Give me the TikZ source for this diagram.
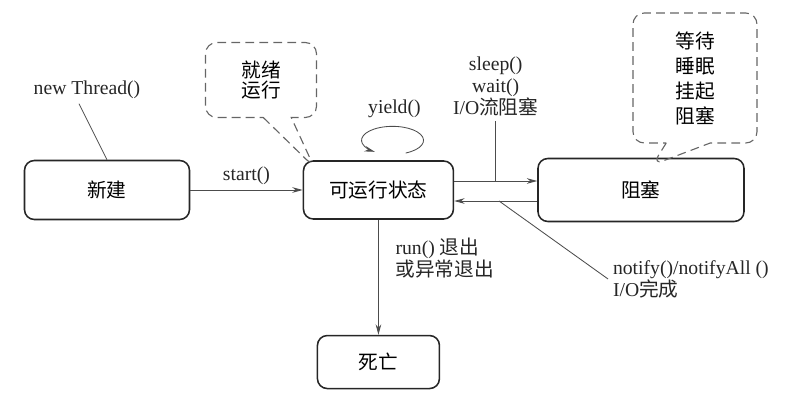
\documentclass[tikz,border=0pt]{standalone}
\usepackage{fontspec}
\setmainfont{Liberation Serif}
\newfontfamily\cjk{Noto Sans CJK SC}
\usetikzlibrary{shapes.callouts, arrows.meta, positioning}
\tikzset{
  % state boxes
  statebox/.style={rectangle, rounded corners=7pt, draw=black!85, line width=1.1pt, text centered, font=\fontsize{14}{17}\selectfont\cjk},
  % dashed speech bubbles
  notebox/.style={rectangle callout, rounded corners=8pt, draw=black!60, dash pattern=on 2.2mm off 1.3mm, line width=0.8pt, align=center, callout pointer width=#1, callout pointer shorten=-0.2cm},
  notebox/.default={0.7cm},
  % labels and connectors
  lbl/.style={font=\fontsize{14}{15.6}\selectfont, text=black!85},
  arrow/.style={-{Stealth[length=2.6mm, width=1.4mm]}, draw=black!70, line width=0.6pt},
  link/.style={draw=black!70, line width=0.6pt},
}
\begin{document}
\begin{tikzpicture}
  \useasboundingbox (-2.675,-5.35) rectangle (17.55,4.75);

  % states
  \node[statebox, minimum width=4.125cm, minimum height=1.475cm] (new) {新建};
  \node[statebox, minimum width=3.75cm, minimum height=1.45cm, right=2.81cm of new] (run) {可运行状态};
  \node[statebox, minimum width=5.15cm, minimum height=1.575cm, right=2.075cm of run] (block) {阻塞};
  \node[statebox, minimum width=3.05cm, minimum height=1.325cm, below=2.875cm of run] (dead) {死亡};

  % new -> run
  \node[lbl, above=1.4cm of new, xshift=-0.5cm] (newlbl) {new Thread()};
  \draw[link] ([xshift=-0.2cm]newlbl.south) -- (new.north);
  \draw[arrow] (new) -- node[lbl, above] {start()} (run);

  % yield loop
  \coordinate (yieldA) at ([shift={(0.68,0.18)}]run.north);
  \draw[arrow] (yieldA) arc[start angle=-65, end angle=235, x radius=0.775cm, y radius=0.35cm];
  \node[lbl] (yieldlbl) at ([shift={(0.4,1.28)}]run.north) {yield()};

  % run <-> block
  \coordinate (upA) at ([yshift=0.225cm]run.east);
  \coordinate (loB) at ([yshift=-0.275cm]block.west);
  \draw[arrow] (upA) -- coordinate[midway] (upM) (upA -| block.west);
  \draw[arrow] (loB) -- coordinate[pos=0.46] (loM) (loB -| run.east);
  \node[lbl, align=center, above=1.5cm of upM] (sleeplbl) {sleep()\\wait()\\I/O{\cjk 流阻塞}};
  \draw[link] (sleeplbl) -- (upM);
  \node[lbl, align=left, anchor=west] (notifylbl) at ([shift={(2.725,-1.95)}]loM) {notify()/notifyAll ()\\I/O{\cjk 完成}};
  \draw[link] (loM) -- (notifylbl.west);

  % run -> dead
  \draw[arrow] (run) -- node[lbl, right=0.3cm, pos=0.33, align=left] {run() {\cjk 退出}\\{\cjk 或异常退出}} (dead);

  % callouts
  \node[notebox=0.7cm, minimum width=2.775cm, minimum height=1.875cm, font=\fontsize{14}{14.5}\selectfont\cjk,
        callout absolute pointer={([xshift=0.18cm]run.north west)}] (readynote) at (3.85,2.75) {就绪\\运行};
  \node[notebox=1.1cm, minimum width=3.1cm, minimum height=3.25cm, font=\fontsize{14}{17.8}\selectfont\cjk,
        callout absolute pointer={([xshift=0.375cm]block.north)}] (waitnote) at (14.7,2.8) {等待\\睡眠\\挂起\\阻塞};
\end{tikzpicture}
\end{document}
